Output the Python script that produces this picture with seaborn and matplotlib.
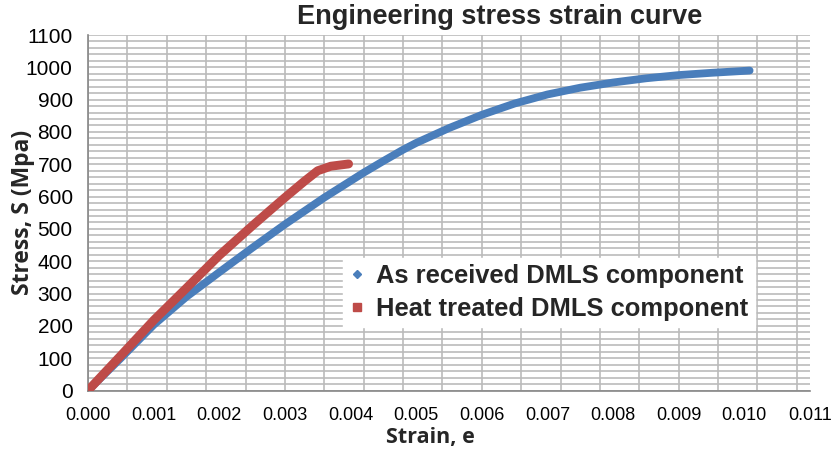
import numpy as np
import pandas as pd
import seaborn as sns
import matplotlib.pyplot as plt
from matplotlib.ticker import MultipleLocator, FormatStrFormatter
from matplotlib.lines import Line2D

# values
strain_as_received = [0.0, 0.0005, 0.001, 0.0015, 0.002, 0.0025, 0.003, 0.0036,
                      0.0042, 0.0045, 0.0048, 0.005, 0.0055, 0.006, 0.0065,
                      0.007, 0.0075, 0.008, 0.0085, 0.009, 0.0095, 0.010, 0.01008]
stress_as_received = [0, 100, 203, 290, 366, 441, 514, 597,
                      674, 710, 745, 766, 812, 853, 888,
                      916, 937, 953, 966, 976, 983, 989, 990]

strain_heat_treated = [0.0, 0.0005, 0.001, 0.0015, 0.002, 0.0025, 0.0028,
                       0.003, 0.0033, 0.0035, 0.0037, 0.00397]
stress_heat_treated = [0, 108, 217, 317, 418, 509, 562,
                       597, 648, 680, 694, 701]

series_names = ['As received DMLS component', 'Heat treated DMLS component']
colors = ['#4A7EBB', '#BE4B48']

df = pd.concat([
    pd.DataFrame({'strain': strain_as_received, 'stress': stress_as_received,
                  'series': series_names[0]}),
    pd.DataFrame({'strain': strain_heat_treated, 'stress': stress_heat_treated,
                  'series': series_names[1]}),
])

sns.set_style('white')
plt.rcParams['font.family'] = ['Liberation Sans', 'DejaVu Sans']

fig = plt.figure(figsize=(8.34, 4.61), dpi=100)
ax = fig.add_axes([88 / 834, 1 - 390.5 / 461, (810 - 88) / 834, (390.5 - 35) / 461])

grid_col = '#bbbbbb'
for name, col, lw in zip(series_names, colors, [5.6, 6.4]):
    sns.lineplot(data=df[df['series'] == name], x='strain', y='stress',
                 color=col, lw=lw, sort=False, ax=ax, legend=False,
                 solid_capstyle='round', solid_joinstyle='round', zorder=3)

ax.set_xlim(0, 0.011)
ax.set_ylim(0, 1100)
ax.xaxis.set_major_locator(MultipleLocator(0.001))
ax.xaxis.set_major_formatter(FormatStrFormatter('%.3f'))
ax.xaxis.set_minor_locator(MultipleLocator(0.0006))
ax.xaxis.remove_overlapping_locs = False
ax.yaxis.set_major_locator(MultipleLocator(100))
ax.yaxis.set_minor_locator(MultipleLocator(20))

ax.grid(False)
ax.grid(True, which='minor', axis='x', color=grid_col, lw=1.2)
ax.grid(True, which='both', axis='y', color=grid_col, lw=1.2)
ax.set_axisbelow(True)

for side in ['top', 'right']:
    ax.spines[side].set_visible(False)
for side in ['left', 'bottom']:
    ax.spines[side].set_color('#868686')
    ax.spines[side].set_linewidth(1.2)

ax.tick_params(axis='both', which='major', length=5, width=1.2, color='#868686',
               labelcolor='black')
ax.tick_params(axis='x', which='major', pad=7, labelsize=13)
ax.tick_params(axis='y', which='major', pad=6, labelsize=15)
ax.tick_params(which='minor', length=0)

ax.set_xlabel('')
ax.set_ylabel('')
fig.text(430 / 834, 1 - 437 / 461, 'Strain, e', ha='center', va='center',
         fontsize=15.5, fontweight='bold', family=['Open Sans', 'DejaVu Sans'])
fig.text(23 / 834, 1 - 212 / 461, 'Stress, S (Mpa)', ha='center', va='center',
         rotation=90, fontsize=16.5, fontweight='bold', family=['Open Sans', 'DejaVu Sans'])
fig.text(500 / 834, 1 - 17 / 461, 'Engineering stress strain curve', ha='center',
         va='center', fontsize=19.5, fontweight='bold')

handles = [Line2D([], [], ls='none', marker='D', ms=4.5, color=colors[0]),
           Line2D([], [], ls='none', marker='s', ms=5.5, color=colors[1])]
leg = fig.legend(handles, series_names, loc='upper left',
                 bbox_to_anchor=(343 / 834, 1 - 258 / 461), frameon=True,
                 prop={'weight': 'bold', 'size': 18.4}, handlelength=0.6,
                 handletextpad=0.45, borderpad=0.25, labelspacing=0.33,
                 fancybox=False, borderaxespad=0)
leg.get_frame().set_facecolor('white')
leg.get_frame().set_edgecolor('white')
leg.get_frame().set_alpha(1)

fig.savefig('out.png', dpi=100)
